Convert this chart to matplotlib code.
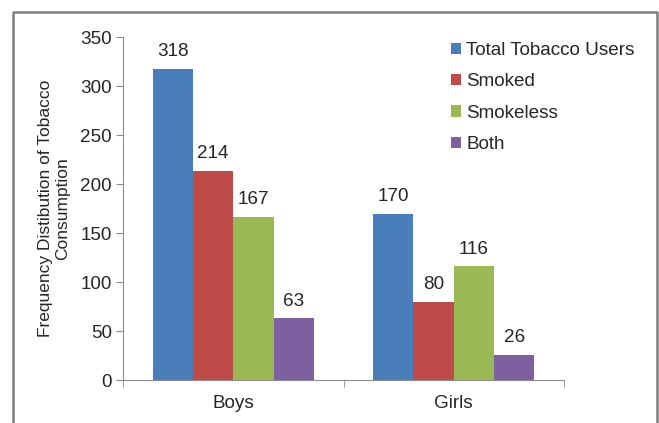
import numpy as np
import matplotlib.pyplot as plt
from matplotlib.lines import Line2D

plt.rcParams['font.family'] = ['Liberation Sans', 'DejaVu Sans']

groups = ['Boys', 'Girls']
series = ['Total Tobacco Users', 'Smoked', 'Smokeless', 'Both']
values = [[318, 170], [214, 80], [167, 116], [63, 26]]
colors = ['#4a7ebb', '#be4b48', '#98b954', '#7d60a0']
yticks = [0, 50, 100, 150, 200, 250, 300, 350]

W, H = 659, 423
fig = plt.figure(figsize=(W / 100, H / 100), dpi=100)
ax = fig.add_axes([123 / W, (H - 380) / H, (564 - 123) / W, (380 - 37.5) / H])

x = np.arange(len(groups))
bw = 0.183
txt = '#262626'
fs = 13.6
for i, (name, vals) in enumerate(zip(series, values)):
    pos = x + (i - 1.5) * bw
    ax.bar(pos, vals, bw, color=colors[i], label=name)
    for p, v in zip(pos, vals):
        ax.text(p, v + 9, str(v), ha='center', va='bottom', fontsize=fs, color=txt)

ax.set_xlim(-0.5, 1.5)
ax.set_ylim(0, 350)
ax.set_yticks(yticks)
ax.set_xticks(x)
ax.set_xticklabels(groups)
ax.set_xticks([-0.5, 0.5, 1.5], minor=True)
ax.tick_params(axis='x', which='major', length=0, pad=11, labelsize=fs, colors=txt)
ax.tick_params(axis='x', which='minor', length=5, direction='out', color='#8c8c8c')
ax.tick_params(axis='y', length=5, color='#8c8c8c', labelsize=fs, labelcolor=txt, pad=3)
for s in ['top', 'right']:
    ax.spines[s].set_visible(False)
for s in ['left', 'bottom']:
    ax.spines[s].set_color('#8c8c8c')
ax.set_ylabel('Frequency Distibution of Tobacco\nConsumption', fontsize=12.5, color=txt, labelpad=7)

ax.legend(loc='upper left', bbox_to_anchor=(434 / W, (H - 25) / H), bbox_transform=fig.transFigure,
          frameon=False, fontsize=fs, handlelength=0.55, handleheight=0.55, handletextpad=0.25,
          labelspacing=0.76, labelcolor=txt)

# outer frame
fx = [13 / W, 13 / W, 657 / W, 657 / W]
fy = [0, 1 - 12 / H, 1 - 12 / H, 0]
fig.add_artist(Line2D(fx, fy, transform=fig.transFigure, color='#7f7f7f', lw=1.8))

fig.savefig('out.png', dpi=100)
